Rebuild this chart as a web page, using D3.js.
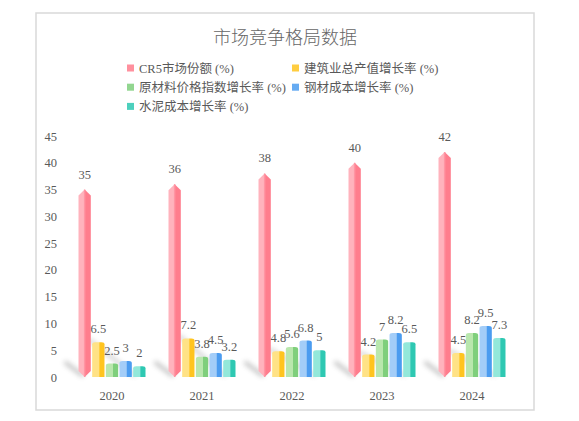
<!DOCTYPE html>
<html>
<head>
<meta charset="utf-8">
<script src="https://cdn.jsdelivr.net/npm/d3@7"></script>
<style>
  body { margin: 0; background: #fff; }
  text { font-family: "Liberation Serif", "Noto Sans CJK SC", serif; }
</style>
</head>
<body>
<div id="chart"></div>
<script>
// chart data
const years = ["2020", "2021", "2022", "2023", "2024"]
const seriesNames = ["CR5市场份额 (%)", "建筑业总产值增长率 (%)", "原材料价格指数增长率 (%)", "钢材成本增长率 (%)", "水泥成本增长率 (%)"]
const cr5 = [35, 36, 38, 40, 42]
const outputGrowth = [6.5, 7.2, 4.8, 4.2, 4.5]
const materialIndex = [2.5, 3.8, 5.6, 7, 8.2]
const steelCost = [3, 4.5, 6.8, 8.2, 9.5]
const cementCost = [2, 3.2, 5, 6.5, 7.3]
const yTicks = [0, 5, 10, 15, 20, 25, 30, 35, 40, 45]

const allValues = [cr5, outputGrowth, materialIndex, steelCost, cementCost]
// light / dark face colours for every series
const light = ["#ffb3bd", "#ffe286", "#b9e7ad", "#a3cdf8", "#93e8da"]
const dark = ["#ff7d8d", "#ffc41f", "#7fcf7c", "#4b9cf0", "#2ec8b2"]

const width = 579
const height = 421
const base = 377

const svg = d3.select('#chart').append("svg")
  .attr("width", width)
  .attr("height", height)

const defs = svg.append("defs")
allValues.forEach((s, i) => {
  const g = defs.append("linearGradient").attr("id", "grad" + i)
    .attr("x1", "0").attr("x2", "1").attr("y1", "0").attr("y2", "0")
  g.append("stop").attr("offset", "0").attr("stop-color", light[i])
  g.append("stop").attr("offset", "0.55").attr("stop-color", light[i])
  g.append("stop").attr("offset", "0.62").attr("stop-color", dark[i])
  g.append("stop").attr("offset", "1").attr("stop-color", dark[i])
})
defs.append("filter").attr("id", "blur")
  .attr("x", "-50%").attr("y", "-50%").attr("width", "200%").attr("height", "200%")
  .append("feGaussianBlur").attr("stdDeviation", 2.5)

// outer border
svg.append("rect")
  .attr("x", 36).attr("y", 13)
  .attr("width", 498).attr("height", 397)
  .attr("fill", "#fff")
  .attr("stroke", "#d9d9d9")
  .attr("stroke-width", 1.5)

// title
svg.append("text")
  .attr("x", 285).attr("y", 44)
  .attr("text-anchor", "middle")
  .style("font-size", "18px")
  .style("font-weight", "300")
  .style("fill", "#666")
  .text("市场竞争格局数据")

// legend: two columns
const legend = svg.append("g")
seriesNames.forEach((name, i) => {
  const lx = i % 2 === 0 ? 127 : 292
  const ly = 68 + Math.floor(i / 2) * 19.2
  legend.append("rect")
    .attr("x", lx).attr("y", ly - 3.5)
    .attr("width", 7).attr("height", 7)
    .attr("fill", dark[i])
    .attr("opacity", 0.85)
  legend.append("text")
    .attr("x", lx + 12).attr("y", ly + 4.5)
    .style("font-size", "12.5px")
    .style("fill", "#595959")
    .text(name)
})

const yScale = d3.scaleLinear()
  .domain([0, 45])
  .range([base, 136])

const xScale = d3.scaleBand()
  .domain(years)
  .range([67, 517])

const inner = d3.scaleBand()
  .domain(d3.range(allValues.length))
  .range([-33.5, 33.5])
  .paddingInner(0.1)

// y axis labels only
const yAxis = svg.append("g")
  .attr("transform", "translate(59,0)")
  .call(d3.axisLeft(yScale).tickValues(yTicks).tickSize(0).tickPadding(2))
yAxis.select(".domain").remove()
yAxis.selectAll("text")
  .style("font-size", "12.5px")
  .style("fill", "#595959")
  .style("font-family", "Liberation Serif, serif")

// x axis labels
const xAxis = svg.append("g")
  .attr("transform", "translate(0," + (base + 8) + ")")
  .call(d3.axisBottom(xScale).tickSize(0).tickPadding(6))
xAxis.select(".domain").remove()
xAxis.selectAll("text")
  .style("font-size", "12.5px")
  .style("fill", "#595959")
  .style("font-family", "Liberation Serif, serif")

// soft diagonal shadows behind each group
const shadows = svg.append("g").attr("filter", "url(#blur)").attr("opacity", 0.45)
years.forEach((yr, j) => {
  const cx = xScale(yr) + xScale.bandwidth() / 2
  shadows.append("line")
    .attr("x1", cx - 46).attr("y1", base - 14)
    .attr("x2", cx - 30).attr("y2", base - 2)
    .attr("stroke", "#777").attr("stroke-width", 4).attr("stroke-linecap", "round")
  shadows.append("line")
    .attr("x1", cx - 22).attr("y1", yScale(allValues[1][j]) - 2)
    .attr("x2", cx + 22).attr("y2", base - 2)
    .attr("stroke", "#888").attr("stroke-width", 3).attr("stroke-linecap", "round")
})

// bars
const bars = svg.append("g")
allValues.forEach((values, i) => {
  values.forEach((v, j) => {
    const x0 = xScale(years[j]) + xScale.bandwidth() / 2 + inner(i)
    const w = inner.bandwidth()
    const x1 = x0 + w
    const cx = x0 + w / 2
    const top = yScale(v)
    if (i === 0) {
      // pointed prism
      const tip = 6
      bars.append("polygon")
        .attr("points", [[cx, top], [x0, top + tip], [x0, base - tip], [cx, base]].join(" "))
        .attr("fill", light[i])
      bars.append("polygon")
        .attr("points", [[cx, top], [x1, top + tip], [x1, base - tip], [cx, base]].join(" "))
        .attr("fill", dark[i])
      bars.append("line")
        .attr("x1", cx).attr("y1", top).attr("x2", cx).attr("y2", base)
        .attr("stroke", "#ff95a3").attr("stroke-width", 1.5)
    } else {
      bars.append("path")
        .attr("d", "M" + x0 + "," + base + " L" + x0 + "," + (top + 2)
          + " Q" + x0 + "," + top + " " + (x0 + 3) + "," + top
          + " L" + (x1 - 3) + "," + top
          + " Q" + x1 + "," + top + " " + x1 + "," + (top + 2)
          + " L" + x1 + "," + base + " Z")
        .attr("fill", "url(#grad" + i + ")")
    }
    bars.append("text")
      .attr("x", cx)
      .attr("y", top - (i === 0 ? 11 : 9))
      .attr("text-anchor", "middle")
      .style("font-size", "12.5px")
      .style("fill", "#595959")
      .text(v)
  })
})
</script>
</body>
</html>
